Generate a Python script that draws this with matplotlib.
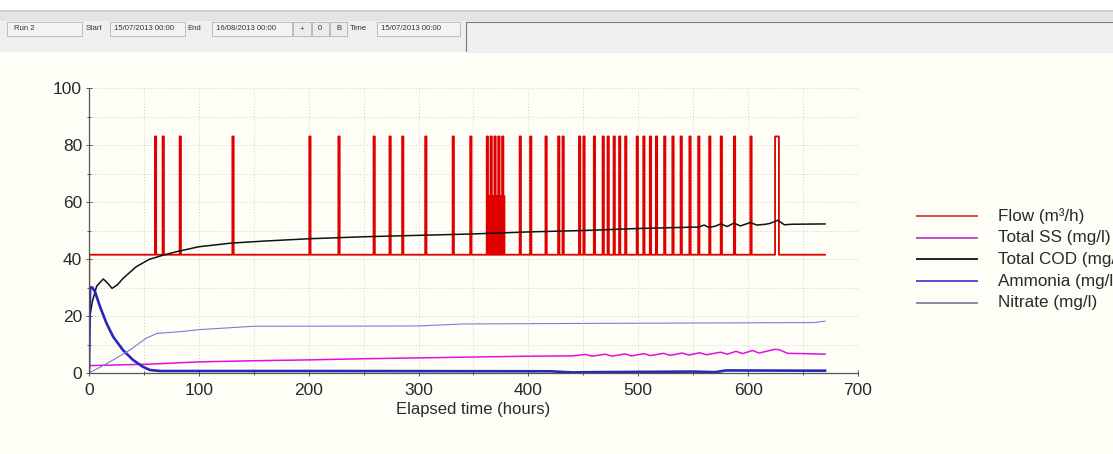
import numpy as np
import matplotlib
matplotlib.use("Agg")
import matplotlib.pyplot as plt
from matplotlib.patches import Rectangle
from matplotlib.lines import Line2D

plt.rcParams["font.family"] = ["Liberation Sans", "DejaVu Sans"]

W, H = 1113, 454

# ---- data ----
BASE_FLOW = 41.5
spike_t = [60, 67, 82.5, 130.5, 200.5, 227, 259, 273.5, 285, 306, 331, 347,
           362, 363, 364, 365.5, 366.5, 367.5, 369, 370, 371, 372.5, 373.5,
           374.5, 376, 377,
           392, 401.5, 415.5, 427, 431, 446, 450, 459.5, 467.5, 472, 477.5,
           482.5, 488, 498.5, 504.5, 510.5, 516, 523.5, 531, 538.5, 546.5,
           554.5, 564.5, 575, 587, 602, 624.5]
spike_top = [83, 83, 83, 83, 83, 83, 83, 83, 83, 83, 83, 83,
             83, 62, 62, 83, 62, 62, 83, 62, 62, 83, 62,
             62, 83, 62,
             83, 83, 83, 83, 83, 83, 83, 83, 83, 83, 83,
             83, 83, 83, 83, 83, 83, 83, 83, 83, 83,
             83, 83, 83, 83, 83, 83]
spike_w = [1.2] * (len(spike_t) - 1) + [3.5]
flow_end = 670

ss_t = [0, 0.5, 55, 100, 150, 200, 250, 300, 350, 400, 440, 452, 458, 470,
        476, 488, 494, 505, 511, 523, 529, 540, 546, 556, 562, 575, 581, 589,
        595, 604, 610, 624, 628, 636, 650, 670]
ss_v = [0, 2.6, 3.1, 3.9, 4.3, 4.6, 5.0, 5.3, 5.6, 5.9, 6.0, 6.5, 5.9, 6.6,
        5.9, 6.7, 6.0, 6.8, 6.1, 6.9, 6.2, 7.0, 6.3, 7.1, 6.4, 7.3, 6.6, 7.6,
        6.8, 7.9, 7.0, 8.3, 8.2, 6.9, 6.8, 6.6]

cod_t = [0, 3, 7, 13, 17, 21, 26, 31, 43, 55, 68, 80, 100, 130, 160, 200,
         250, 300, 350, 400, 450, 500, 530, 555, 560, 564, 570, 575, 581,
         587, 593, 602, 608, 616, 620, 627, 633, 640, 670]
cod_v = [18, 25, 30.5, 33, 31.5, 29.7, 31, 33.2, 37.3, 39.9, 41.4, 42.6,
         44.3, 45.6, 46.3, 47.1, 47.8, 48.3, 48.8, 49.5, 50.0, 50.7, 51.0,
         51.2, 51.9, 51.1, 51.5, 52.3, 51.4, 52.6, 51.6, 52.8, 51.9, 52.2,
         52.5, 53.6, 52.0, 52.2, 52.3]

amm_t = [0, 1, 3, 5.5, 10, 16, 22, 31, 40, 49, 55.5, 65, 200, 420, 440, 460,
         550, 570, 580, 670]
amm_v = [0, 30, 30, 28.5, 23.3, 17.4, 12.7, 8, 4.6, 2.2, 1.05, 0.7, 0.7, 0.6,
         0.2, 0.3, 0.5, 0.3, 0.9, 0.8]

nit_t = [0, 10, 22, 37, 52, 62, 83, 100, 150, 300, 340, 450, 600, 660, 670]
nit_v = [0, 2, 4.6, 8, 12.2, 13.9, 14.5, 15.2, 16.4, 16.5, 17.2, 17.4, 17.6,
         17.7, 18.2]

series = ["Flow (m\u00b3/h)", "Total SS (mg/l)", "Total COD (mg/l)",
          "Ammonia (mg/l)", "Nitrate (mg/l)"]

toolbar = [("Run 2", 14), ("Start", 86), ("15/07/2013 00:00", 114),
           ("End", 187), ("16/08/2013 00:00", 216), ("Time", 350),
           ("15/07/2013 00:00", 381)]


def fx(x):
    return x / W


def fy(y):
    return 1 - y / H


def build_flow():
    t, v = [0, 0.3], [0, BASE_FLOW]
    for s, top, w in zip(spike_t, spike_top, spike_w):
        t += [s, s, s + w, s + w]
        v += [BASE_FLOW, top, top, BASE_FLOW]
    t.append(flow_end)
    v.append(BASE_FLOW)
    return t, v


fig = plt.figure(figsize=(W / 100, H / 100), dpi=100, facecolor="#fefef7")

# toolbar strip
def frect(x0, y0, x1, y1, **kw):
    fig.patches.append(Rectangle((fx(x0), fy(y1)), fx(x1) - fx(x0),
                                 fy(y0) - fy(y1), transform=fig.transFigure,
                                 **kw))

frect(0, 0, W, 10, color="white", lw=0)
frect(0, 10, W, 21, color="#e4e4e4", lw=0)
frect(0, 21, W, 52, color="#efefef", lw=0)
frect(0, 10, W, 11.5, color="#cfcfcf", lw=0)
for x0, x1 in [(7, 82), (110, 185), (212, 292), (377, 460)]:
    frect(x0, 22, x1, 36, facecolor="#f3f3f3", edgecolor="#b4b4b4", lw=0.6)
for x0, x1 in [(293, 311), (312, 329), (330, 347)]:
    frect(x0, 22, x1, 36, facecolor="#ececec", edgecolor="#a8a8a8", lw=0.5)
for x, s in zip([300, 318, 336], ["+", "0", "B"]):
    fig.text(fx(x), fy(29), s, fontsize=5.5, color="#333333", va="center")
frect(466, 22, W + 5, 51, facecolor="#f0f0f0", edgecolor="#777777", lw=0.8)
frect(467, 50, W, 53, color="#efefef", lw=0)
for s, x in toolbar:
    fig.text(fx(x), fy(29), s, fontsize=5.6, color="#333333", va="center")

# main axes
ax = fig.add_axes([fx(89), fy(373), fx(858) - fx(89), fy(88) - fy(373)])
ax.set_facecolor("none")

ft, fv = build_flow()
ax.plot(ft, fv, color="#e00000", lw=1.3)
ax.plot(ss_t, ss_v, color="#e010e0", lw=1.1)
ax.plot(cod_t, cod_v, color="#111111", lw=1.1)
ax.plot(amm_t, amm_v, color="#2828b8", lw=1.9)
ax.plot(nit_t, nit_v, color="#7a7ad8", lw=0.8)

ax.set_xlim(0, 700)
ax.set_ylim(0, 100)
ax.set_xticks(np.arange(0, 701, 100))
ax.set_xticks(np.arange(0, 701, 50), minor=True)
ax.set_yticks(np.arange(0, 101, 20))
ax.set_yticks(np.arange(0, 101, 10), minor=True)
ax.grid(True, which="both", color="#cfcfcf", lw=0.7, ls=(0, (1, 2)))
ax.set_axisbelow(True)
for side in ["top", "right"]:
    ax.spines[side].set_visible(False)
for side in ["left", "bottom"]:
    ax.spines[side].set_color("#555555")
    ax.spines[side].set_linewidth(0.9)
ax.tick_params(which="both", direction="inout", length=4, width=0.7,
               color="#555555", labelsize=12.5, labelcolor="#2a2a2a")
ax.tick_params(axis="x", pad=5)
ax.tick_params(axis="y", pad=3)
ax.tick_params(which="minor", length=3)
ax.set_xlabel("Elapsed time (hours)", fontsize=12, color="#2a2a2a",
              labelpad=3)

# legend drawn by hand, it runs off the right edge like the screenshot
leg_colors = ["#e04848", "#c050c8", "#222222", "#5050d0", "#8888a8"]
for i, (name, c) in enumerate(zip(series, leg_colors)):
    y = 216 + 21.7 * i
    fig.lines.append(Line2D([fx(917), fx(977)], [fy(y), fy(y)],
                            transform=fig.transFigure, color=c, lw=1.4))
    fig.text(fx(998), fy(y), name, fontsize=12.3, color="#2a2a2a",
             va="center")

fig.savefig("out.png", dpi=100, facecolor=fig.get_facecolor())
